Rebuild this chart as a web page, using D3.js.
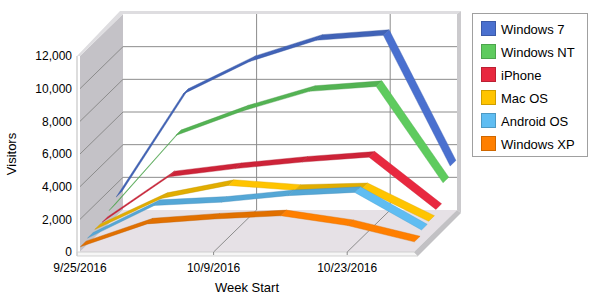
<!DOCTYPE html>
<html>
<head>
<meta charset="utf-8">
<script src="https://cdn.jsdelivr.net/npm/d3@7"></script>
<style>
  body { margin: 0; background: #fff; }
  svg { font-family: "Liberation Sans", Arial, sans-serif; }
</style>
</head>
<body>
<div id="chart"></div>
<script>
const weeks = ["9/25/2016", "10/2/2016", "10/9/2016", "10/16/2016", "10/23/2016", "10/30/2016"];
const shownWeeks = ["9/25/2016", "10/9/2016", "10/23/2016"];
const valueTicks = [0, 2000, 4000, 6000, 8000, 10000, 12000];

const seriesNames = ["Windows 7", "Windows NT", "iPhone", "Mac OS", "Android OS", "Windows XP"];
const seriesColors = ["#4a70cf", "#5ecb5e", "#e8283f", "#ffc400", "#5fbdf2", "#ff7f00"];

const windows7 = [1200, 7500, 9500, 10800, 11100, 3100];
const windowsNT = [800, 5400, 6900, 8100, 8400, 2500];
const iPhone = [500, 3300, 3800, 4200, 4500, 1300];
const macOS = [500, 2400, 3200, 2900, 3000, 1000];
const androidOS = [400, 2400, 2600, 3000, 3200, 900];
const windowsXP = [300, 1700, 2000, 2200, 1600, 600];

const seriesValues = [windows7, windowsNT, iPhone, macOS, androidOS, windowsXP];

const width = 600, height = 300;
const depth = {dx: 43, dy: -42};

const svg = d3.select("#chart").append("svg")
    .attr("width", width)
    .attr("height", height);

const x = d3.scalePoint().domain(weeks).range([80, 414]);
const y = d3.scaleLinear().domain([0, 12000]).range([252, 56]);
// depth slot (0 = front) -> fraction of the full depth
const z = d3.scaleLinear().domain([0, 6]).range([0, 1]);

const pt = (xv, yv, t) => [xv + depth.dx * t, yv + depth.dy * t];

const xL = x(weeks[0]), xR = x(weeks[weeks.length - 1]);
const yT = y(12000), yB = y(0);

// walls
const walls = svg.append("g").attr("class", "walls");
walls.append("polygon")   // left wall
    .attr("points", [pt(xL, yT, 0), pt(xL, yT, 1), pt(xL, yB, 1), pt(xL, yB, 0)].join(" "))
    .attr("fill", "#c4c2c7");
walls.append("polygon")   // back wall
    .attr("points", [pt(xL, yT, 1), pt(xR, yT, 1), pt(xR, yB, 1), pt(xL, yB, 1)].join(" "))
    .attr("fill", "#ffffff");
walls.append("polygon")   // floor
    .attr("points", [pt(xL, yB, 0), pt(xL, yB, 1), pt(xR, yB, 1), pt(xR, yB, 0)].join(" "))
    .attr("fill", "#e6e1e6");

// wall thickness
const [btx, bty] = pt(xR, yT, 1);
walls.append("polygon")
    .attr("points", [pt(xL - 3, yT, 0), pt(xL - 3, yT - 3, 1), [btx + 4, bty - 3], [btx, bty], pt(xL, yT, 1), pt(xL, yT, 0)].join(" "))
    .attr("fill", "#dedde0");
walls.append("polygon")
    .attr("points", [[btx, bty], [btx + 4, bty - 3], pt(xR + 4, yB + 3, 1), pt(xR, yB, 1)].join(" "))
    .attr("fill", "#cbcacd");
walls.append("polygon")
    .attr("points", [pt(xR, yB, 1), pt(xR + 4, yB + 3, 1), pt(xR + 4, yB + 4, 0), pt(xR, yB, 0)].join(" "))
    .attr("fill", "#c2c1c4");
walls.append("polygon")
    .attr("points", [pt(xL - 3, yB, 0), pt(xR, yB, 0), pt(xR + 4, yB + 4, 0), pt(xL - 3, yB + 4, 0)].join(" "))
    .attr("fill", "#f6f6f6")
    .attr("stroke", "#c8c8c8")
    .attr("stroke-width", 0.8);
walls.append("line")
    .attr("x1", xL - 3).attr("x2", xL - 3)
    .attr("y1", yT).attr("y2", yB + 4)
    .attr("stroke", "#d2d2d2").attr("stroke-width", 1.5);

// gridlines
const grid = svg.append("g").attr("class", "grid")
    .attr("stroke", "#8c8c8c").attr("stroke-width", 1).attr("fill", "none");
valueTicks.filter(v => v > 0 && v < 12000).forEach(v => {
    const a = pt(xL, y(v), 0), b = pt(xL, y(v), 1), c = pt(xR, y(v), 1);
    grid.append("polyline").attr("points", [a, b, c].join(" "));
});
shownWeeks.slice(1).forEach(w => {
    const a = pt(x(w), yB + 3, 0), b = pt(x(w), yB, 0), c = pt(x(w), yB, 1), d = pt(x(w), yT, 1);
    grid.append("polyline").attr("points", [a, b, c, d].join(" "));
});

// ribbons, back to front
const ribbons = svg.append("g").attr("class", "ribbons");
seriesValues.forEach((vals, k) => {
    const slot = seriesValues.length - 1 - k;
    const t0 = z(slot + 0.05), t1 = z(slot + 0.85);
    const base = d3.color(seriesColors[k]);
    const g = ribbons.append("g");
    d3.pairs(weeks.map((w, i) => [x(w), y(vals[i])])).forEach(([p, q]) => {
        const rising = q[1] < p[1];
        const fill = rising ? base.darker(0.35) : base;
        g.append("polygon")
            .attr("points", [pt(p[0], p[1], t0), pt(q[0], q[1], t0), pt(q[0], q[1], t1), pt(p[0], p[1], t1)].join(" "))
            .attr("fill", fill)
            .attr("stroke", d3.color(fill).darker(0.4))
            .attr("stroke-width", 0.4)
            .attr("stroke-linejoin", "round");
    });
});

// value axis labels
svg.append("g").attr("class", "axis_y")
    .selectAll("text").data(valueTicks).join("text")
    .attr("x", 72)
    .attr("y", d => y(d))
    .attr("dy", "0.35em")
    .attr("text-anchor", "end")
    .style("font-size", "12px")
    .text(d3.format(","));

// category labels
svg.append("g").attr("class", "axis_x")
    .selectAll("text").data(shownWeeks).join("text")
    .attr("x", d => x(d))
    .attr("y", 272)
    .attr("text-anchor", "middle")
    .style("font-size", "12px")
    .text(d => d);

// axis titles
svg.append("text")
    .attr("transform", `translate(16, ${(yT + yB) / 2}) rotate(-90)`)
    .attr("text-anchor", "middle")
    .style("font-size", "13px")
    .text("Visitors");
svg.append("text")
    .attr("x", (xL + xR) / 2)
    .attr("y", 292)
    .attr("text-anchor", "middle")
    .style("font-size", "13px")
    .text("Week Start");

// legend
const legend = svg.append("g").attr("class", "legend");
legend.append("rect")
    .attr("x", 472.5).attr("y", 13.5)
    .attr("width", 115).attr("height", 143)
    .attr("fill", "#fff").attr("stroke", "#a0a0a0");
const items = legend.selectAll("g.item").data(seriesNames).join("g")
    .attr("class", "item")
    .attr("transform", (d, i) => `translate(481, ${21 + i * 23})`);
items.append("rect")
    .attr("x", 0.5).attr("y", 0.5)
    .attr("width", 14).attr("height", 14)
    .attr("fill", (d, i) => seriesColors[i])
    .attr("stroke", (d, i) => d3.color(seriesColors[i]).darker(0.6));
items.append("text")
    .attr("x", 20).attr("y", 8)
    .attr("dy", "0.35em")
    .style("font-size", "13px")
    .text(d => d);
</script>
</body>
</html>
